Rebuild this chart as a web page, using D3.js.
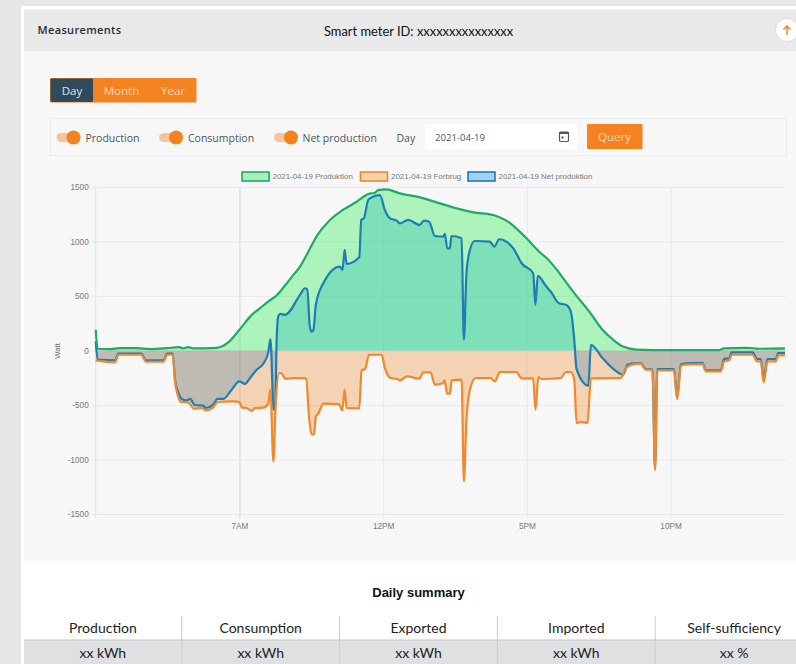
<!DOCTYPE html>
<html>
<head>
<meta charset="utf-8">
<script src="https://cdn.jsdelivr.net/npm/d3@7"></script>
<style>
	html, body { margin: 0; padding: 0; overflow: hidden; background: #e4e6e8; }
	svg { display: block; }
	text { font-family: "Open Sans", sans-serif; }
	.tick text, .chartText { font-family: "Liberation Sans", sans-serif; }
	.humanist { font-family: Lato, sans-serif; }
</style>
</head>
<body>
<svg id="page" width="796" height="664"></svg>
<script>
// [hour of day, watt], hours run past 24 into the next morning
const production = [[2,189],[2.07,15],[2.5,12],[2.85,21],[3.43,20],[3.89,12],[4.47,20],[4.91,30],[5.03,18],[5.22,30],[5.4,18],[6.2,24],[6.44,43],[6.61,73],[7,189],[7.43,326],[7.72,387],[8,448],[8.3,505],[8.6,600],[8.88,692],[9.11,768],[9.4,906],[9.69,1048],[10.15,1196],[10.56,1281],[11.08,1363],[11.48,1433],[11.71,1446],[11.83,1470],[12.1,1476],[12.58,1440],[13.28,1403],[13.98,1348],[14.56,1302],[15.14,1266],[15.83,1241],[16.29,1190],[16.99,1028],[17.45,900],[17.66,854],[18.7,509],[19.17,357],[19.63,189],[20,98],[20.33,37],[20.79,8],[21.95,3],[23.69,3],[23.86,18],[24.62,24],[25.1,15],[25.98,18]];
const consumption = [[2,-92],[2.67,-110],[2.79,-40],[3.58,-40],[3.75,-104],[4.35,-104],[4.49,-40],[4.68,-40],[4.76,-284],[4.91,-451],[4.96,-473],[5.22,-476],[5.42,-534],[5.69,-528],[5.83,-549],[6.09,-522],[6.24,-473],[6.44,-470],[6.79,-467],[7,-473],[7.08,-522],[7.25,-528],[7.43,-555],[7.54,-528],[7.83,-525],[8,-488],[8.08,-360],[8.18,-1019],[8.26,-512],[8.38,-207],[8.45,-207],[8.59,-259],[8.93,-253],[9.32,-256],[9.43,-634],[9.51,-766],[9.59,-772],[9.66,-604],[9.74,-580],[9.92,-488],[10.47,-494],[10.58,-549],[10.66,-360],[10.73,-528],[11.17,-531],[11.25,-183],[11.37,-171],[11.51,-40],[11.95,-40],[12.06,-162],[12.26,-253],[12.49,-262],[12.58,-275],[12.84,-238],[13.26,-259],[13.4,-201],[13.65,-201],[13.8,-314],[14.09,-299],[14.14,-275],[14.23,-397],[14.32,-397],[14.39,-275],[14.73,-268],[14.81,-1199],[14.9,-634],[15.02,-360],[15.22,-253],[15.74,-253],[15.89,-284],[16.06,-198],[16.64,-198],[16.82,-256],[17.22,-256],[17.3,-543],[17.4,-244],[17.51,-262],[18.18,-253],[18.36,-198],[18.53,-198],[18.65,-268],[18.73,-665],[18.88,-656],[19.11,-665],[19.23,-256],[20.27,-253],[20.44,-162],[20.67,-131],[20.96,-122],[21.14,-177],[21.37,-177],[21.46,-1098],[21.54,-183],[22.12,-183],[22.23,-445],[22.36,-140],[22.53,-131],[23.11,-125],[23.23,-192],[23.75,-192],[23.86,-101],[24.04,-92],[24.13,-40],[24.85,-40],[25.02,-101],[25.14,-101],[25.24,-293],[25.37,-101],[25.66,-101],[25.75,-46],[25.98,-43]];
const netProduction = [[2,82],[2.07,-85],[2.67,-92],[2.79,-30],[3.58,-30],[3.75,-92],[4.35,-92],[4.49,-30],[4.68,-30],[4.76,-268],[4.88,-390],[4.99,-445],[5.17,-458],[5.28,-445],[5.46,-503],[5.74,-506],[5.83,-528],[6.09,-497],[6.24,-445],[6.44,-445],[6.73,-360],[7,-284],[7.19,-308],[7.37,-253],[7.6,-177],[7.83,-122],[8,-24],[8.08,104],[8.19,-543],[8.24,-543],[8.3,128],[8.35,311],[8.43,335],[8.58,326],[9.11,509],[9.28,570],[9.36,561],[9.45,220],[9.51,171],[9.57,183],[9.66,418],[9.92,616],[10.5,769],[10.59,738],[10.66,921],[10.73,793],[11.17,854],[11.24,1196],[11.33,1211],[11.48,1379],[11.6,1403],[11.89,1424],[12.06,1287],[12.24,1211],[12.47,1190],[12.58,1165],[12.87,1196],[13.28,1150],[13.42,1190],[13.6,1180],[13.8,1049],[14.09,1043],[14.15,1068],[14.23,936],[14.32,936],[14.38,1049],[14.73,1028],[14.81,98],[14.9,708],[15.02,921],[15.19,1003],[15.71,997],[15.87,952],[16.04,1019],[16.53,936],[16.82,799],[17.22,708],[17.3,418],[17.38,683],[17.66,592],[17.83,540],[18.12,433],[18.36,418],[18.53,357],[18.65,98],[18.73,-171],[19.14,-323],[19.23,52],[19.63,-70],[20.04,-177],[20.35,-223],[20.5,-131],[20.65,-122],[20.96,-116],[21.14,-171],[21.37,-171],[21.46,-1086],[21.54,-171],[22.12,-171],[22.23,-433],[22.36,-128],[22.53,-119],[23.11,-113],[23.23,-183],[23.75,-183],[23.86,-79],[24.04,-73],[24.13,-18],[24.85,-18],[25.02,-79],[25.14,-79],[25.24,-268],[25.37,-79],[25.66,-79],[25.75,-24],[25.98,-24]];

const yTicks = [1500, 1000, 500, 0, -500, -1000, -1500];
const xTicks = [7, 12, 17, 22];
const xTickLabels = ['7AM', '12PM', '5PM', '10PM'];
const legendLabels = ['2021-04-19 Produktion', '2021-04-19 Forbrug', '2021-04-19 Net produktion'];
const toggleLabels = ['Production', 'Consumption', 'Net production'];
const summaryHeaders = ['Production', 'Consumption', 'Exported', 'Imported', 'Self-sufficiency'];
const summaryValues = ['xx kWh', 'xx kWh', 'xx kWh', 'xx kWh', 'xx %'];

const orange = '#f58220';
const greenLine = '#22a868', greenFill = 'rgba(60,240,100,0.4)';
const orangeLine = '#f0882c', orangeFill = 'rgba(240,130,30,0.3)';
const blueLine = '#1f7db5', blueFill = 'rgba(54,162,235,0.4)';

const svg = d3.select('#page');

function box(parent, x, y, w, h, fill, rx) {
	return parent.append('rect')
		.attr('x', x).attr('y', y)
		.attr('width', w).attr('height', h)
		.attr('rx', rx || 0)
		.attr('fill', fill);
}

function label(parent, x, y, str, size, color, anchor) {
	return parent.append('text')
		.attr('x', x).attr('y', y)
		.attr('font-size', size)
		.attr('fill', color)
		.attr('text-anchor', anchor || 'start')
		.text(str);
}

// Page frame
box(svg, 21, 6, 775, 658, '#ffffff');
box(svg, 24, 9.5, 772, 41.5, '#e9e9e9');
box(svg, 24, 51, 772, 510, '#f7f7f7');

// Header
label(svg, 37.5, 34, 'Measurements', 11, '#2b2f33').attr('letter-spacing', 0.35).attr('font-weight', 600);
label(svg, 324, 35.5, 'Smart meter ID: xxxxxxxxxxxxxxx', 12.9, '#111111').attr('class', 'humanist');
svg.append('circle').attr('cx', 787).attr('cy', 30).attr('r', 11.5)
	.attr('fill', '#ffffff').attr('stroke', '#dddddd');
svg.append('path').attr('d', 'M787 35V26M783.5 29.5L787 26L790.5 29.5')
	.attr('fill', 'none').attr('stroke', orange).attr('stroke-width', 1.4);

// Day / Month / Year
box(svg, 50, 78, 146.5, 24.5, orange, 1.5);
box(svg, 50.5, 78.5, 42.5, 23.5, '#2f4a5a', 1);
label(svg, 72, 94.5, 'Day', 11.5, '#dfe6ea', 'middle');
label(svg, 121.5, 94.5, 'Month', 11.5, '#fbdcc0', 'middle');
label(svg, 173, 94.5, 'Year', 11.5, '#fbdcc0', 'middle');

// Filter row
box(svg, 50.5, 118.5, 736, 37, 'none').attr('stroke', '#eaebed');
const toggleKnobs = [73.5, 176, 291];
const toggleText = [85.5, 188, 302.5];
toggleLabels.forEach(function (d, i) {
	box(svg, toggleKnobs[i] - 17, 133, 20, 9, '#f9c49a', 4.5);
	svg.append('circle').attr('cx', toggleKnobs[i]).attr('cy', 137.5).attr('r', 7).attr('fill', orange);
	label(svg, toggleText[i], 141.5, d, 10.5, '#4a5560');
});
label(svg, 396.5, 141.5, 'Day', 10.5, '#4a5560');
box(svg, 425, 124.5, 152, 25, '#ffffff');
label(svg, 435, 140.5, '2021-04-19', 9.6, '#4a5560');
box(svg, 559.5, 132, 9, 9.5, 'none', 1).attr('stroke', '#555555').attr('stroke-width', 1.2);
box(svg, 559.5, 132, 9, 2, '#555555');
box(svg, 561.5, 136.5, 2, 2, '#555555');
box(svg, 587, 124, 55.5, 25, orange, 1);
label(svg, 614.5, 141, 'Query', 11.5, '#fbdcc0', 'middle');

// Chart
const x = d3.scaleLinear().domain([2, 26]).range([95.7, 785.5]);
const y = d3.scaleLinear().domain([-1500, 1500]).range([514, 186.8]);

const xAxis = d3.axisBottom(x)
	.tickValues(xTicks)
	.tickFormat(function (d, i) { return xTickLabels[i]; })
	.tickSize(-(514 - 186.8) - 4)
	.tickPadding(5);
const yAxis = d3.axisLeft(y)
	.tickValues(yTicks)
	.tickFormat(function (d) { return String(d); })
	.tickSize(-(785.5 - 95.7) - 4)
	.tickPadding(3);

const gx = svg.append('g').attr('transform', 'translate(0,518)').call(xAxis);
const gy = svg.append('g').attr('transform', 'translate(91.7,0)').call(yAxis);
[gx, gy].forEach(function (g) {
	g.select('.domain').remove();
	g.selectAll('.tick line').attr('stroke', '#e8e8e8');
	g.selectAll('.tick text').attr('fill', '#777777').attr('font-size', 8.2);
});
gx.selectAll('.tick line').filter(function (d) { return d === 7; }).attr('stroke', '#d4d4d4');
gy.selectAll('.tick text').attr('dy', '0.34em');
svg.append('line')
	.attr('x1', x(2)).attr('x2', x(2))
	.attr('y1', y(1500)).attr('y2', 518)
	.attr('stroke', '#e2e2e2');
label(svg, 0, 0, 'Watt', 8, '#666666', 'middle')
	.attr('class', 'chartText')
	.attr('transform', 'translate(60,351) rotate(-90)');

const area = d3.area()
	.x(function (d) { return x(d[0]); })
	.y0(y(0))
	.y1(function (d) { return y(d[1]); })
	.curve(d3.curveMonotoneX);
const line = area.lineY1();

// first series ends up on top, so draw them back to front
const series = [
	{ values: netProduction, fill: blueFill, stroke: blueLine },
	{ values: consumption, fill: orangeFill, stroke: orangeLine },
	{ values: production, fill: greenFill, stroke: greenLine }
];
series.forEach(function (s) {
	svg.append('path').attr('d', area(s.values)).attr('fill', s.fill);
});
series.forEach(function (s) {
	svg.append('path').attr('d', line(s.values))
		.attr('fill', 'none')
		.attr('stroke', s.stroke)
		.attr('stroke-width', 2.2)
		.attr('stroke-linejoin', 'round');
});

// Legend
const legendX = [242, 360.5, 468];
const legendFills = ['#a7f0bb', '#f8d0ab', '#a2d0f2'];
const legendStrokes = [greenLine, orangeLine, blueLine];
legendLabels.forEach(function (d, i) {
	box(svg, legendX[i], 172, 27, 9, legendFills[i]).attr('stroke', legendStrokes[i]).attr('stroke-width', 1.6);
	label(svg, legendX[i] + 30.5, 179.4, d, 7.9, '#777777').attr('class', 'chartText');
});

// Daily summary
label(svg, 418.5, 596.5, 'Daily summary', 13, '#111111', 'middle')
	.attr('class', 'chartText').attr('font-weight', 'bold');
const colWidth = 157.8;
box(svg, 24, 640, 772, 24, '#dfe0e2');
svg.append('line').attr('x1', 24).attr('x2', 796).attr('y1', 640).attr('y2', 640).attr('stroke', '#c4c4c4');
summaryHeaders.forEach(function (d, i) {
	const cx = 24 + colWidth * (i + 0.5);
	label(svg, cx, 633, d, 14, '#222222', 'middle').attr('class', 'humanist');
	label(svg, cx, 658, summaryValues[i], 14, '#222222', 'middle').attr('class', 'humanist');
	if (i > 0) {
		svg.append('line')
			.attr('x1', 24 + colWidth * i).attr('x2', 24 + colWidth * i)
			.attr('y1', 616).attr('y2', 664)
			.attr('stroke', '#cccccc');
	}
});
</script>
</body>
</html>
